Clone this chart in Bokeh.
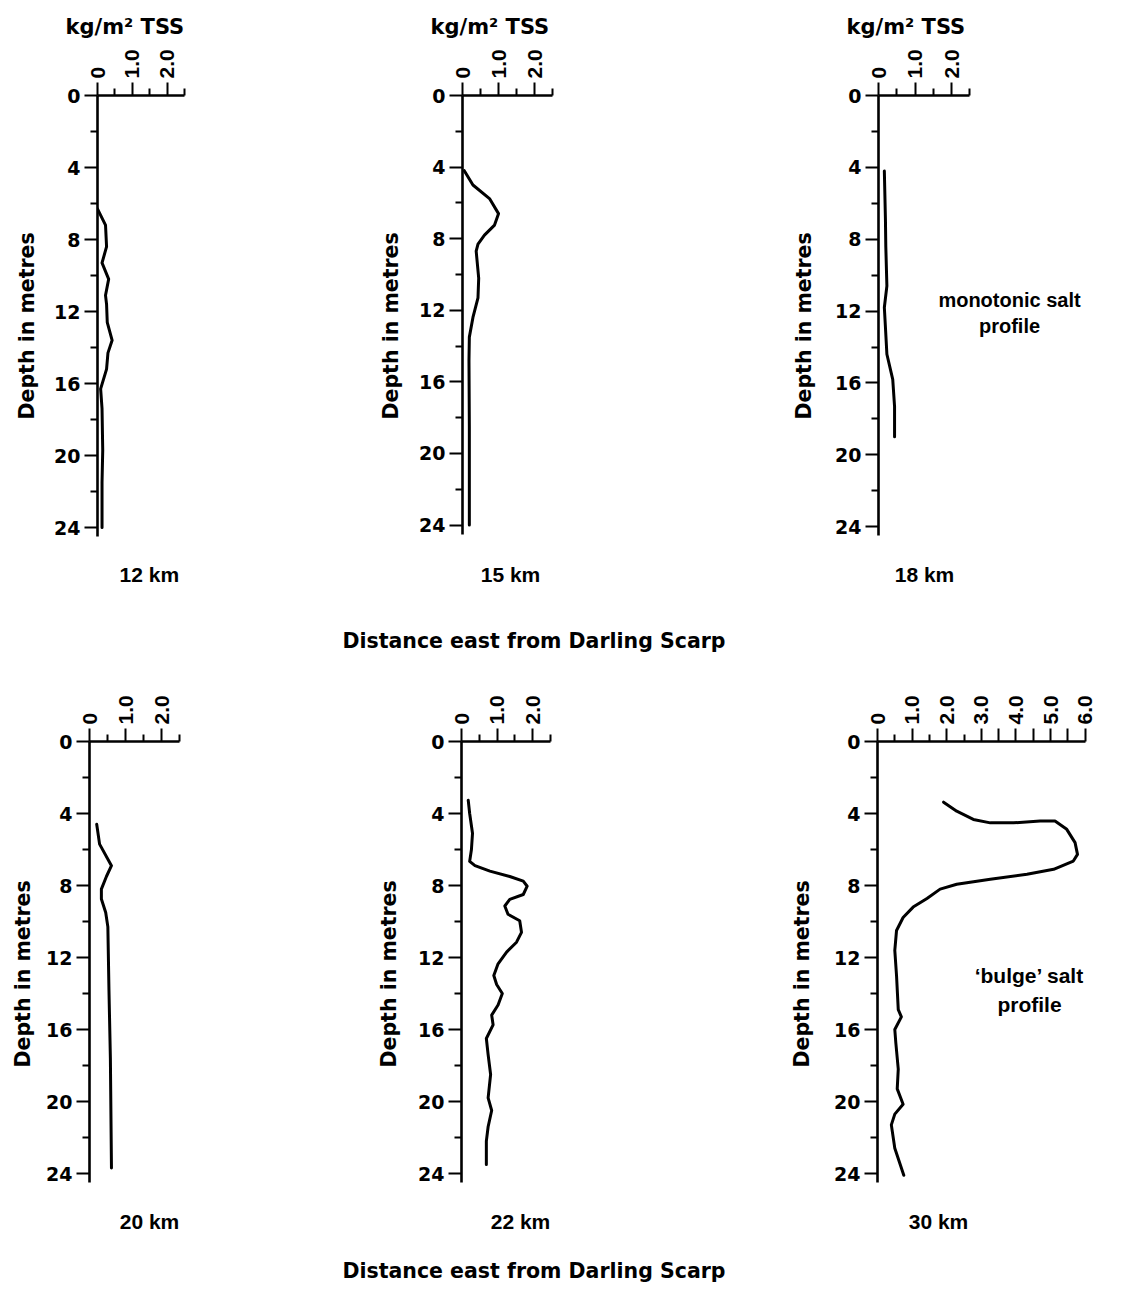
import math
from bokeh.plotting import figure
from bokeh.models import Range1d, FixedTicker, Label, Div, CustomJSTickFormatter, Title
from bokeh.layouts import column, row
from bokeh.embed import file_html
from bokeh.resources import INLINE

# ---------------- data (depth in metres, TSS in kg/m2) ----------------
depth_12 = [6.3, 7.2, 8.4, 9.3, 10.2, 11.1, 11.6, 12.6, 13.6, 14.3, 15.2, 16.3, 17.4, 19.7, 21.5, 24.0]
tss_12 = [0.0, 0.23, 0.26, 0.13, 0.32, 0.23, 0.26, 0.28, 0.42, 0.30, 0.26, 0.09, 0.13, 0.15, 0.13, 0.13]

depth_15 = [4.2, 5.0, 5.76, 6.6, 7.24, 7.8, 8.3, 8.7, 10.2, 11.3, 12.4, 13.5, 14.8, 18.5, 24.0]
tss_15 = [0.05, 0.29, 0.75, 1.0, 0.89, 0.61, 0.43, 0.38, 0.45, 0.43, 0.29, 0.19, 0.18, 0.19, 0.19]

depth_18 = [4.2, 6.9, 8.4, 10.6, 11.8, 12.9, 14.4, 15.8, 17.3, 19.0]
tss_18 = [0.16, 0.19, 0.20, 0.23, 0.16, 0.19, 0.23, 0.39, 0.44, 0.44]

depth_20 = [4.6, 5.7, 6.9, 7.5, 8.2, 8.75, 9.5, 10.3, 13.75, 17.6, 23.7]
tss_20 = [0.20, 0.28, 0.61, 0.47, 0.33, 0.33, 0.45, 0.51, 0.54, 0.58, 0.61]

depth_22 = [3.27, 4.0, 5.1, 6.0, 6.66, 6.9, 7.2, 7.5, 7.76, 8.04, 8.5, 8.77, 9.14, 9.6, 9.96, 10.6,
            11.15, 11.7, 12.35, 13.0, 13.5, 14.0, 14.64, 15.2, 15.74, 16.5, 17.4, 18.5, 19.8, 20.5,
            21.4, 22.2, 23.5]
tss_22 = [0.19, 0.23, 0.31, 0.28, 0.23, 0.38, 0.80, 1.36, 1.74, 1.85, 1.74, 1.36, 1.22, 1.31, 1.64, 1.69,
          1.55, 1.27, 1.03, 0.91, 0.99, 1.15, 1.03, 0.85, 0.89, 0.70, 0.75, 0.82, 0.75, 0.85,
          0.75, 0.70, 0.70]

depth_30 = [3.37, 3.87, 4.33, 4.52, 4.52, 4.42, 4.42, 4.88, 5.62, 6.27, 6.64, 7.1, 7.37, 7.65, 7.93,
            8.2, 8.72, 9.2, 9.78, 10.5, 11.6, 13.0, 14.9, 15.3, 16.0, 16.75, 18.2, 19.3, 20.15, 20.7,
            21.3, 22.6, 24.1]
tss_30 = [1.91, 2.29, 2.77, 3.26, 3.93, 4.70, 5.13, 5.47, 5.71, 5.78, 5.66, 5.09, 4.32, 3.26, 2.29,
          1.81, 1.43, 1.03, 0.74, 0.55, 0.50, 0.55, 0.60, 0.69, 0.50, 0.53, 0.60, 0.57, 0.74, 0.50,
          0.40, 0.50, 0.76]

depth_ticks = [0, 4, 8, 12, 16, 20, 24]
depth_minor = [2, 6, 10, 14, 18, 22]
tss_ticks = [0, 1, 2]
tss_minor = [0.5, 1.5, 2.5]
tss_ticks_30 = [0, 1, 2, 3, 3.5, 4, 4.5, 5, 5.5, 6]
tss_minor_30 = [0.5, 1.5, 2.5]

panel_names = ["12 km", "15 km", "18 km", "20 km", "22 km", "30 km"]
x_title = "kg/m² TSS"
y_title = "Depth in metres"
dist_title = "Distance east from Darling Scarp"

FONT = "Liberation Sans"
WIDE = "DejaVu Sans"
PXM = 18.0


def panel(depth, tss, name, width, height, mbl, mbt, pxu, xend, xticks, xminor,
          km_px, ylab_bottom, ylab_standoff, title=None):
    """km_px: text centre in pixels relative to the axes origin;
    ylab_bottom: lower end of the depth title in pixels below the axes origin."""
    frame_w = width - mbl
    frame_h = height - mbt
    p = figure(width=width, height=height,
               x_range=Range1d(0, frame_w / pxu), y_range=Range1d(frame_h / PXM, 0),
               output_backend="svg", toolbar_location=None, x_axis_location="above",
               min_border_left=mbl, min_border_top=mbt, min_border_right=0, min_border_bottom=0)
    p.outline_line_color = None
    p.xgrid.visible = False
    p.ygrid.visible = False
    p.background_fill_color = "white"
    p.border_fill_color = "white"

    xa = p.xaxis[0]
    xa.bounds = (0, xend)
    xa.ticker = FixedTicker(ticks=xticks, minor_ticks=xminor)
    xa.formatter = CustomJSTickFormatter(code="""
        if (tick == 0) return "0";
        if (Math.abs(tick - Math.round(tick)) < 1e-6) return tick.toFixed(1);
        return "";
    """)
    xa.major_label_orientation = math.pi / 2
    xa.major_label_text_font = FONT
    xa.major_label_text_font_size = "21px"
    ya = p.yaxis[0]
    ya.bounds = (0, 24.5)
    ya.ticker = FixedTicker(ticks=depth_ticks, minor_ticks=depth_minor)
    ya.major_label_text_font = WIDE
    ya.major_label_text_font_size = "19px"
    for ax in (xa, ya):
        ax.axis_line_width = 2.6
        ax.axis_line_color = "black"
        ax.major_tick_line_width = 2
        ax.minor_tick_line_width = 2
        ax.major_tick_line_color = "black"
        ax.minor_tick_line_color = "black"
        ax.major_tick_out = 13
        ax.major_tick_in = 0
        ax.minor_tick_out = 7
        ax.minor_tick_in = 0
        ax.major_label_standoff = 4
        ax.major_label_text_font_style = "bold"
        ax.major_label_text_color = "black"

    if title:
        p.title.text = title
        p.title.align = "left"
        p.title.offset = -32
        p.title.text_font = WIDE
        p.title.text_font_size = "21px"
        p.title.text_font_style = "bold"
        p.title.text_color = "black"
        p.title.standoff = 15

    # depth title on the left; its lower end is lifted from the frame bottom
    up = frame_h - ylab_bottom
    p.add_layout(Title(text=y_title, align="left", offset=up, standoff=ylab_standoff,
                       text_font=WIDE, text_font_size="20.5px", text_font_style="bold",
                       text_color="black"), "left")

    p.line(tss, depth, line_width=3, line_color="black", line_join="round", line_cap="round")

    kx, ky = km_px
    p.add_layout(Label(x=kx / pxu, y=ky / PXM, text=name, text_align="center",
                       text_baseline="middle", text_font=FONT, text_font_size="21px",
                       text_font_style="bold", text_color="black"))
    return p


# top row: axes origins on page at (97, 96), (463, 93), (879, 95)
f12 = panel(depth_12, tss_12, panel_names[0], 360, 629, 96, 95, 35.0, 2.5, tss_ticks, tss_minor,
            (149 - 97, 575 - 96), 420 - 96, 25, title=x_title)
f15 = panel(depth_15, tss_15, panel_names[1], 410, 629, 102, 92, 36.0, 2.5, tss_ticks, tss_minor,
            (511 - 463, 575 - 93), 420 - 93, 28, title=x_title)
f18 = panel(depth_18, tss_18, panel_names[2], 362, 629, 108, 94, 36.5, 2.5, tss_ticks, tss_minor,
            (925 - 879, 575 - 95), 420 - 95, 34, title=x_title)
for txt, yy in (("monotonic salt", 300), ("profile", 326)):
    f18.add_layout(Label(x=(1010 - 879) / 36.5, y=(yy - 95) / PXM, text=txt,
                         text_align="center", text_baseline="middle", text_font=FONT,
                         text_font_size="20px", text_font_style="bold", text_color="black"))

# bottom row: axes origins on page at (90, 742), (462, 742), (878, 742)
f20 = panel(depth_20, tss_20, panel_names[3], 359, 603, 89, 88, 36.0, 2.5, tss_ticks, tss_minor,
            (150 - 90, 1222 - 742), 1068 - 742, 17)
f22 = panel(depth_22, tss_22, panel_names[4], 410, 603, 102, 88, 35.5, 2.5, tss_ticks, tss_minor,
            (521 - 462, 1222 - 742), 1068 - 742, 30)
f30 = panel(depth_30, tss_30, panel_names[5], 363, 603, 108, 88, 34.6, 6.0, tss_ticks_30, tss_minor_30,
            (939 - 878, 1222 - 742), 1068 - 742, 35)
for txt, yy in (("\u2018bulge\u2019 salt", 976), ("profile", 1005)):
    f30.add_layout(Label(x=(1030 - 878) / 34.6, y=(yy - 742) / PXM, text=txt,
                         text_align="center", text_baseline="middle", text_font=FONT,
                         text_font_size="21px", text_font_style="bold", text_color="black"))

div_style = {"text-align": "center", "font-family": WIDE, "font-size": "20.5px",
             "font-weight": "bold", "color": "black"}
d1 = Div(text=dist_title, width=1068, height=24, margin=0,
         styles=dict(div_style, **{"line-height": "24px"}))
d2 = Div(text=dist_title, width=1068, height=30, margin=0,
         styles=dict(div_style, **{"line-height": "30px"}))

layout = column(row(f12, f15, f18), d1, row(f20, f22, f30), d2)

open("out.html", "w").write(file_html(layout, INLINE))
